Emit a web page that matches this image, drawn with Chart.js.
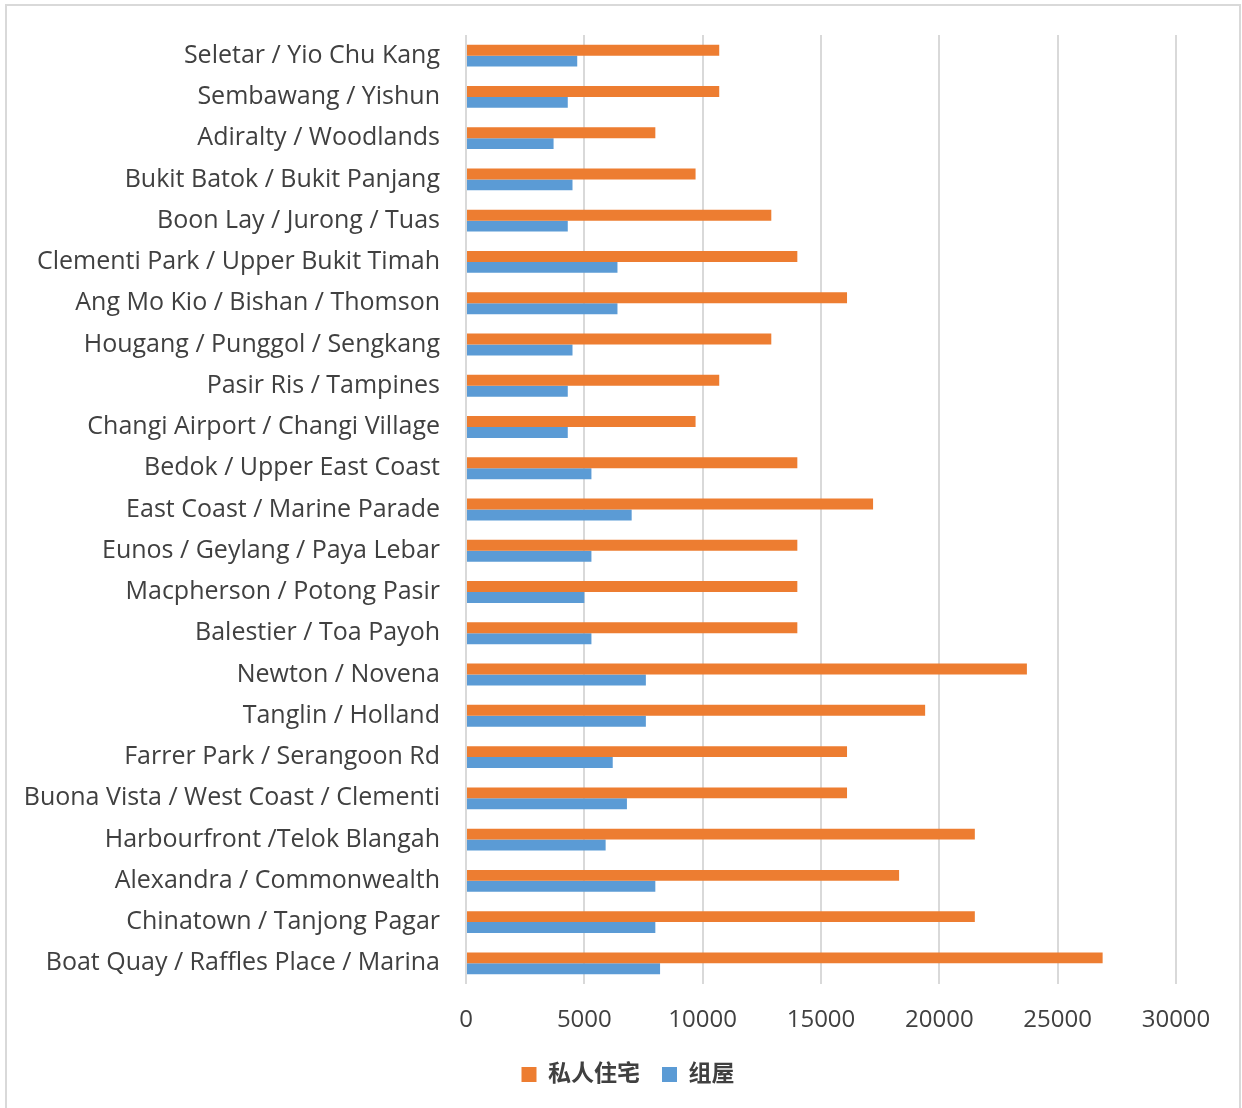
<!doctype html>
<html lang="zh">
<head>
<meta charset="utf-8">
<title>私人住宅 vs 组屋</title>
<script src="https://cdn.jsdelivr.net/npm/chart.js@4.4.1/dist/chart.umd.min.js"></script>
<style>
  html, body { margin: 0; padding: 0; background: #fff; }
  #wrap { position: relative; width: 1242px; height: 1108px; }
  #frame { position: absolute; left: 5px; top: 4px; width: 1232px; height: 1110px;
           border: 2px solid #d9d9d9; pointer-events: none; }
  canvas { position: absolute; left: 0; top: 0; }
</style>
<script>
// districts, top to bottom as shown
var districts = [
  "Seletar / Yio Chu Kang", "Sembawang / Yishun", "Adiralty / Woodlands",
  "Bukit Batok / Bukit Panjang", "Boon Lay / Jurong / Tuas",
  "Clementi Park / Upper Bukit Timah", "Ang Mo Kio / Bishan / Thomson",
  "Hougang / Punggol / Sengkang", "Pasir Ris / Tampines",
  "Changi Airport / Changi Village", "Bedok / Upper East Coast",
  "East Coast / Marine Parade", "Eunos / Geylang / Paya Lebar",
  "Macpherson / Potong Pasir", "Balestier / Toa Payoh", "Newton / Novena",
  "Tanglin / Holland", "Farrer Park / Serangoon Rd",
  "Buona Vista / West Coast / Clementi", "Harbourfront /Telok Blangah",
  "Alexandra / Commonwealth", "Chinatown / Tanjong Pagar",
  "Boat Quay / Raffles Place / Marina"
];

// 私人住宅
var privateHousing = [10700, 10700, 8000, 9700, 12900, 14000, 16100, 12900, 10700,
  9700, 14000, 17200, 14000, 14000, 14000, 23700, 19400, 16100, 16100, 21500,
  18300, 21500, 26900];

// 组屋
var hdbFlats = [4700, 4300, 3700, 4500, 4300, 6400, 6400, 4500, 4300,
  4300, 5300, 7000, 5300, 5000, 5300, 7600, 7600, 6200, 6800, 5900,
  8000, 8000, 8200];

var seriesNames = ["私人住宅", "组屋"];
var xTicks = [0, 5000, 10000, 15000, 20000, 25000, 30000];

var FONT = "'Open Sans', 'Noto Sans CJK SC', sans-serif";
</script>
</head>
<body>
<div id="wrap">
  <canvas id="chart" width="1242" height="1108"></canvas>
  <div id="frame"></div>
</div>
<script>
var ctx = document.getElementById("chart").getContext("2d");

var myChart = new Chart(ctx, {
  type: 'bar',
  data: {
    labels: districts,
    datasets: [{
      label: seriesNames[0],
      data: privateHousing,
      backgroundColor: '#ED7D31',
      barPercentage: 1,
      categoryPercentage: 0.53
    }, {
      label: seriesNames[1],
      data: hdbFlats,
      backgroundColor: '#5B9BD5',
      barPercentage: 1,
      categoryPercentage: 0.53
    }]
  },
  options: {
    indexAxis: 'y',
    responsive: false,
    animation: false,
    // left padding only shifts the legend centre, plot left edge is fixed below
    layout: { padding: { left: 14, right: 0, top: 35, bottom: 12 } },
    plugins: {
      tooltip: { enabled: false },
      legend: {
        position: 'bottom',
        labels: {
          boxWidth: 15,
          boxHeight: 15,
          padding: 22,
          color: '#404040',
          font: { family: FONT, size: 23, weight: 'bold' }
        }
      }
    },
    scales: {
      x: {
        min: 0,
        max: 30000,
        afterBuildTicks: function (s) {
          s.ticks = xTicks.map(function (v) { return { value: v }; });
        },
        afterFit: function (s) {
          s.height = 57;
          s.paddingLeft = 0;
          s.paddingRight = 66;
        },
        grid: { color: '#d9d9d9', lineWidth: 2, drawTicks: false },
        border: { display: false },
        ticks: {
          padding: 22,
          color: '#404040',
          font: { family: FONT, size: 24 },
          callback: function (v) { return String(v); }
        }
      },
      y: {
        afterFit: function (s) {
          s.width = 452;
          s.paddingTop = 0;
          s.paddingBottom = 0;
        },
        grid: { display: false, drawTicks: false },
        border: { display: false },
        ticks: {
          padding: 26,
          autoSkip: false,
          color: '#404040',
          font: { family: FONT, size: 25 }
        }
      }
    }
  }
});
</script>
</body>
</html>
